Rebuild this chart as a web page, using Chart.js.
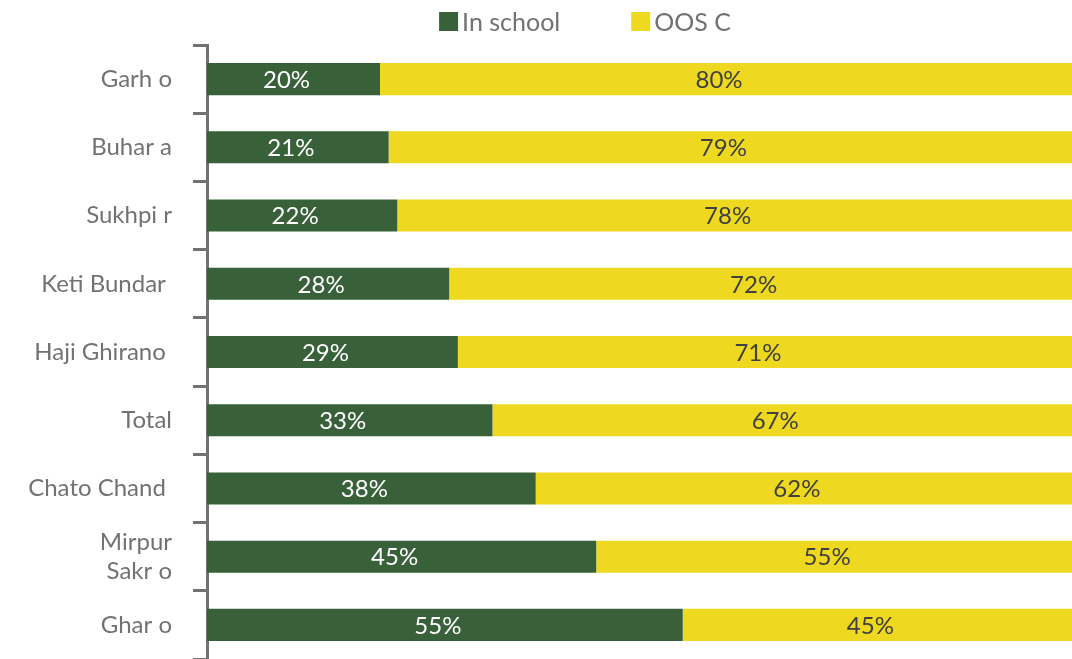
<!DOCTYPE html>
<html>
<head>
<meta charset="utf-8">
<script src="https://cdn.jsdelivr.net/npm/chart.js@4"></script>
<style>
  html, body { margin: 0; padding: 0; background: #fff; }
  #wrap { width: 1072px; height: 659px; }
</style>
</head>
<body>
<div id="wrap"><canvas id="chart"></canvas></div>
<script>
// District names (spacing kept as in the source table)
const districts = ["Garh o", "Buhar a", "Sukhpi r", "Keti Bundar ", "Haji Ghirano ", "Total", "Chato Chand ", ["Mirpur", "Sakr o"], "Ghar o"];
// Share of children in school / out of school (%)
const inSchool = [20, 21, 22, 28, 29, 33, 38, 45, 55];
const outOfSchool = [80, 79, 78, 72, 71, 67, 62, 55, 45];
const seriesNames = ["In school", "OOS C"];

const GREEN = "#386039";
const YELLOW = "#eed920";
const GREY = "#727272";
const FONT = "Lato, 'Open Sans', sans-serif";

//Percent labels inside each bar segment
const barLabels = {
  id: "barLabels",
  afterDatasetsDraw(chart) {
    const ctx = chart.ctx;
    ctx.save();
    ctx.font = "24px " + FONT;
    ctx.textAlign = "center";
    ctx.textBaseline = "middle";
    chart.data.datasets.forEach((ds, di) => {
      chart.getDatasetMeta(di).data.forEach((bar, i) => {
        ctx.fillStyle = di === 0 ? "#ffffff" : "#404040";
        ctx.fillText(ds.data[i] + "%", (bar.x + bar.base) / 2 - 7, bar.y + 1);
      });
    });
    ctx.restore();
  }
};

//Legend across the top, square swatches close to the text
const topLegend = {
  id: "topLegend",
  afterDraw(chart) {
    const ctx = chart.ctx;
    const box = 19, gap = 4, itemGap = 71, centre = 585, midY = 21.5;
    ctx.save();
    ctx.font = "25px " + FONT;
    ctx.textBaseline = "middle";
    const items = chart.data.datasets.map(ds => ({ text: ds.label, color: ds.backgroundColor, w: ctx.measureText(ds.label).width }));
    let total = items.reduce((s, it) => s + box + gap + it.w, 0) + itemGap * (items.length - 1);
    let x = centre - total / 2;
    items.forEach(it => {
      ctx.fillStyle = it.color;
      ctx.fillRect(x, midY - box / 2, box, box);
      ctx.fillStyle = GREY;
      ctx.fillText(it.text, x + box + gap, midY + 1);
      x += box + gap + it.w + itemGap;
    });
    ctx.restore();
  }
};

new Chart(document.getElementById("chart"), {
  type: "bar",
  plugins: [barLabels, topLegend],
  data: {
    labels: districts,
    datasets: [
      { label: seriesNames[0], data: inSchool, backgroundColor: GREEN },
      { label: seriesNames[1], data: outOfSchool, backgroundColor: YELLOW }
    ]
  },
  options: {
    indexAxis: "y",
    responsive: true,
    maintainAspectRatio: false,
    animation: false,
    layout: { padding: { top: 45, bottom: 0, left: 0, right: 0 } },
    datasets: { bar: { barPercentage: 0.47, categoryPercentage: 1 } },
    plugins: {
      legend: { display: false },
      tooltip: { enabled: false }
    },
    scales: {
      x: { stacked: true, min: 0, max: 100, display: false },
      y: {
        stacked: true,
        afterFit: (s) => { s.width = 207; s.paddingTop = 0; s.paddingBottom = 0; },
        border: { display: true, color: GREY, width: 3 },
        grid: { drawOnChartArea: false, offset: true, tickLength: 14, tickWidth: 3, tickColor: GREY },
        ticks: { color: GREY, padding: 21, font: { family: FONT, size: 24 } }
      }
    }
  }
});
</script>
</body>
</html>
